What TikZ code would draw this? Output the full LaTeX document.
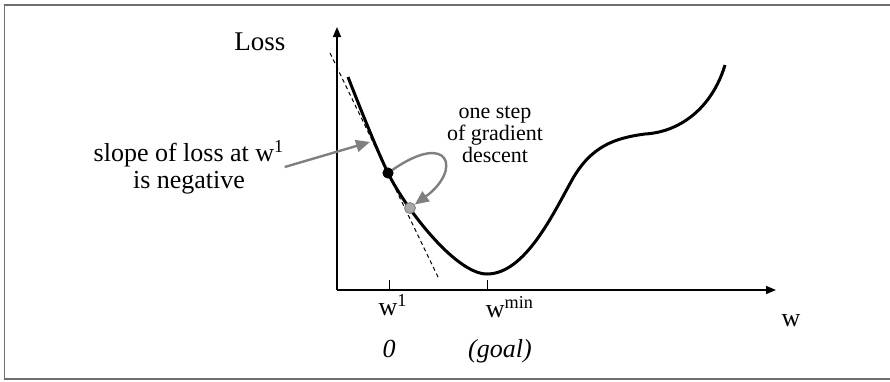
\documentclass[tikz,border=0pt]{standalone}
\usepackage{fontspec}
\setmainfont{Liberation Serif}
\usetikzlibrary{positioning,arrows.meta}
\definecolor{NoteGray}{HTML}{7F7F7F}
\definecolor{StepGray}{HTML}{A8A8A8}
\definecolor{FrameGray}{HTML}{6E6E6E}

\begin{document}
\begin{tikzpicture}[
    x=0.5pt, y=-0.5pt,
    lbl/.style={inner sep=0pt, align=center, font=\fontsize{13}{13.5}\selectfont},
    small/.style={inner sep=0pt, align=center, font=\fontsize{11}{11}\selectfont},
    axis/.style={line width=0.7pt, -{Triangle[length=5pt,width=4pt]}},
    note/.style={-{Triangle[length=7pt,width=6pt]}, line width=1.2pt, draw=NoteGray},
    wdot/.style={circle, inner sep=0pt, minimum size=5pt, draw=black, fill=black},
    gdot/.style={circle, inner sep=0pt, minimum size=5.5pt, draw=NoteGray, line width=0.4pt, fill=StepGray}
  ]
    \useasboundingbox (0,0) rectangle (890,381);
    \draw[FrameGray, line width=0.75pt] (900,5) -- (4.5,5) -- (4.5,379) -- (900,379);

    % axes
    \coordinate (orig) at (337,290);
    \draw[axis] (orig) -- (337,27);
    \draw[axis] (orig) -- (776,290);
    \draw[line width=0.5pt] (389,280) -- (389,290);
    \draw[line width=0.5pt] (487,280) -- (487,290);

    % tangent at w^1
    \draw[line width=0.5pt, dash pattern=on 2pt off 1.6pt] (330,53) -- (439,279);

    % loss curve
    \draw[line width=1.5pt]
      (348,77) .. controls (362,113) and (378,152.3) .. (388,173)
      .. controls (404,206) and (455,274) .. (487,274)
      .. controls (525,274) and (553,214) .. (572,180)
      .. controls (591,146) and (615,138) .. (645,134)
      .. controls (680,132) and (712,108) .. (725,65);

    \node[wdot] (wone) at (388,173) {};
    \node[gdot] (wtwo) at (410,208) {};
    \coordinate (touch) at (370,142);

    % labels
    \node[lbl, font=\fontsize{13.5}{15}\selectfont] (loss) at (260,42) {Loss};
    \node[lbl] (slope) at (189,167) {slope of loss at w\textsuperscript{1}\\is negative};
    \node[small] (stepnote) at (495,134) {one step\\of gradient\\descent};
    \node[lbl, anchor=base] (w1lab) at (393,315) {w\textsuperscript{1}};
    \node[lbl, anchor=base] (wminlab) at (510,317) {w\textsuperscript{min}};
    \node[lbl, anchor=base] (zero) at (389,357) {\itshape 0};
    \node[lbl, anchor=base] (goal) at (500,357) {\itshape (goal)};
    \node[lbl, anchor=base] (wlab) at (791,326) {w};

    \draw[note] (slope.east) -- (touch);
    \draw[note] (wone) .. controls (450,130) and (462,170) .. (wtwo);
    \node[wdot] at (wone) {};
\end{tikzpicture}
\end{document}
